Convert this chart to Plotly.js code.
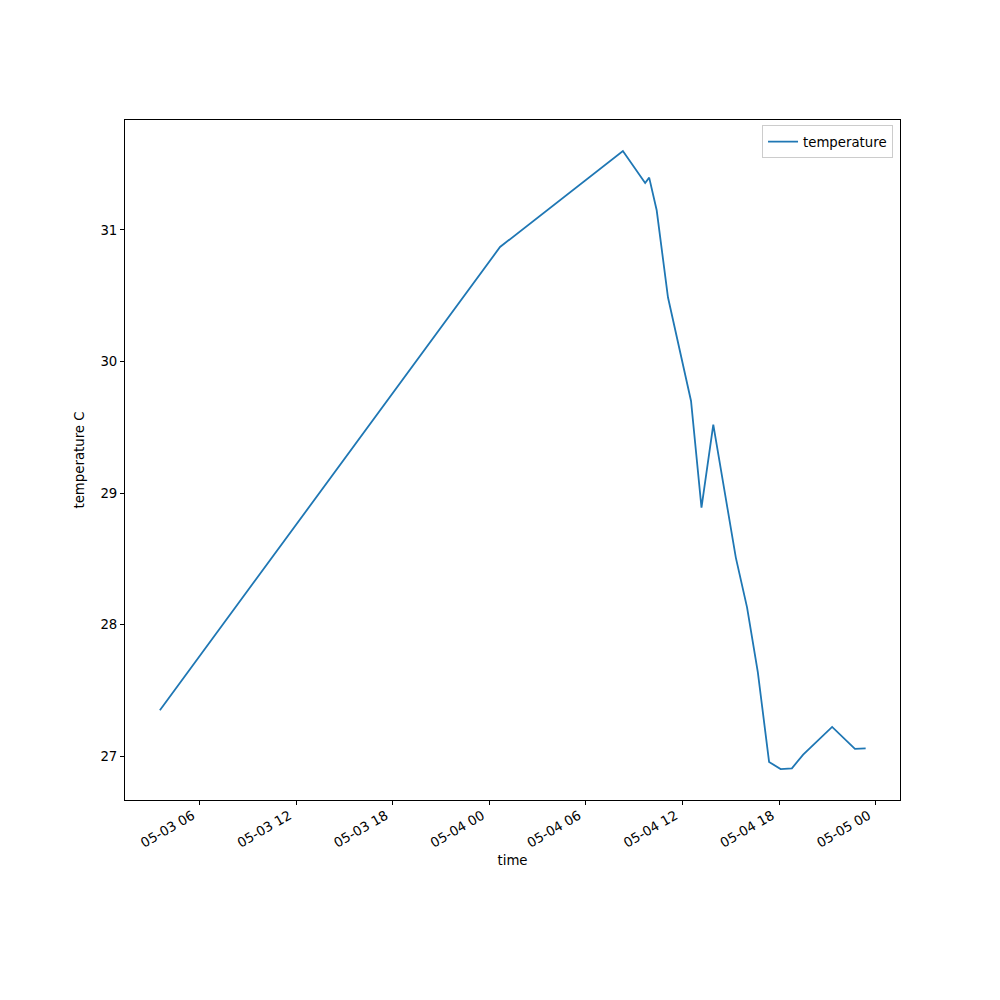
<!DOCTYPE html>
<html>
<head>
<meta charset="utf-8">
<script src="https://cdn.plot.ly/plotly-3.0.1.min.js"></script>
<style>html,body{margin:0;padding:0;background:#fff;}</style>
</head>
<body>
<div id="chart" style="width:1000px;height:1000px;"></div>
<script>
const times = [
  "2024-05-03 03:32", "2024-05-04 00:40", "2024-05-04 08:18", "2024-05-04 09:41",
  "2024-05-04 09:56", "2024-05-04 10:24", "2024-05-04 11:06", "2024-05-04 12:32",
  "2024-05-04 13:11", "2024-05-04 13:55", "2024-05-04 15:19", "2024-05-04 16:01",
  "2024-05-04 16:41", "2024-05-04 17:23", "2024-05-04 18:06", "2024-05-04 18:48",
  "2024-05-04 19:30", "2024-05-04 21:18", "2024-05-04 22:43", "2024-05-04 23:23"
];
const temperature = [
  27.35, 30.87, 31.60, 31.356,
  31.397, 31.149, 30.488, 29.70,
  28.89, 29.52, 28.51, 28.13,
  27.64, 26.957, 26.903, 26.909,
  27.013, 27.223, 27.057, 27.061
];
const tickVals = [
  "2024-05-03 06:00", "2024-05-03 12:00", "2024-05-03 18:00", "2024-05-04 00:00",
  "2024-05-04 06:00", "2024-05-04 12:00", "2024-05-04 18:00", "2024-05-05 00:00"
];
const tickText = ["05-03 06", "05-03 12", "05-03 18", "05-04 00", "05-04 06", "05-04 12", "05-04 18", "05-05 00"];
const yTicks = [27, 28, 29, 30, 31];

const font = {family: "DejaVu Sans, sans-serif", size: 13.3, color: "#000"};

Plotly.newPlot("chart", [{
  x: times, y: temperature, type: "scatter", mode: "lines", name: "temperature",
  line: {color: "#1f77b4", width: 1.8}
}], {
  width: 1000, height: 1000,
  margin: {l: 125, r: 100, t: 120, b: 200},
  paper_bgcolor: "#fff", plot_bgcolor: "#fff",
  font: font,
  showlegend: true,
  legend: {x: 0.991, y: 0.992, xanchor: "right", yanchor: "top", bgcolor: "rgba(255,255,255,0.8)",
           bordercolor: "#cccccc", borderwidth: 1, font: font, itemwidth: 30, tracegroupgap: 0},
  xaxis: {
    type: "date", range: ["2024-05-03 01:22", "2024-05-05 01:31"],
    tickvals: tickVals, ticktext: tickText, tickangle: -30,
    ticklabelshift: -7, ticklabelstandoff: -2,
    ticks: "outside", ticklen: 4, tickwidth: 1, tickcolor: "#000",
    showline: true, linecolor: "#000", linewidth: 1, mirror: true,
    showgrid: false, zeroline: false,
    title: {text: "time", font: font, standoff: 6}
  },
  yaxis: {
    range: [26.668, 31.835],
    tickvals: yTicks, ticks: "outside", ticklen: 4, tickwidth: 1, tickcolor: "#000",
    showline: true, linecolor: "#000", linewidth: 1, mirror: true,
    showgrid: false, zeroline: false,
    title: {text: "temperature C", font: font, standoff: 12}
  }
}, {staticPlot: true});
</script>
</body>
</html>
